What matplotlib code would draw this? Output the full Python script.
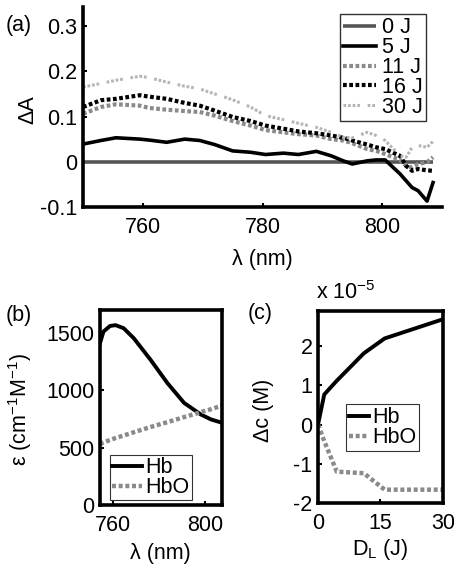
import matplotlib
matplotlib.use("Agg")
import matplotlib.pyplot as plt
import numpy as np

plt.rcParams['font.family'] = ['Liberation Sans', 'DejaVu Sans']
plt.rcParams['mathtext.fontset'] = 'custom'
plt.rcParams['mathtext.rm'] = 'Liberation Sans'
plt.rcParams['mathtext.it'] = 'Liberation Sans'
plt.rcParams['axes.unicode_minus'] = False

# ---------------- Panel (a): difference absorbance spectra ----------------
wavelength_a = [750, 753, 755.5, 759.5, 761, 764, 767, 769.5, 772, 775, 778, 780.5,
                783.5, 786, 789, 791.5, 793.5, 795, 797.5, 799, 800.5, 803, 804,
                805, 806, 807.5, 808.5]
dA_0J = [0.0] * len(wavelength_a)
dA_5J = [0.039, 0.047, 0.053, 0.050, 0.048, 0.043, 0.050, 0.047, 0.038, 0.024, 0.021,
         0.016, 0.019, 0.016, 0.023, 0.013, 0.002, -0.005, 0.002, 0.004, 0.004, -0.027,
         -0.042, -0.057, -0.064, -0.087, -0.046]
dA_11J = [0.106, 0.121, 0.127, 0.124, 0.119, 0.115, 0.112, 0.110, 0.102, 0.090, 0.080,
          0.070, 0.065, 0.061, 0.058, 0.050, 0.047, 0.041, 0.028, 0.024, 0.017, 0.004,
          -0.009, -0.013, -0.005, -0.001, 0.010]
dA_16J = [0.121, 0.136, 0.139, 0.147, 0.144, 0.139, 0.130, 0.124, 0.113, 0.099, 0.090,
          0.080, 0.073, 0.067, 0.063, 0.058, 0.053, 0.047, 0.038, 0.032, 0.028, 0.013,
          -0.009, -0.020, -0.016, -0.019, -0.020]
dA_30J = [0.165, 0.173, 0.180, 0.189, 0.186, 0.176, 0.167, 0.161, 0.150, 0.137, 0.121,
          0.102, 0.093, 0.085, 0.076, 0.065, 0.054, 0.053, 0.065, 0.058, 0.047, 0.013,
          0.010, 0.032, 0.036, 0.032, 0.045]
labels_a = ['0 J', '5 J', '11 J', '16 J', '30 J']

# ---------------- Panel (b): extinction coefficients ----------------
wavelength_b = [754.2, 755.7, 758.6, 761.0, 764.5, 768.9, 776.2, 783.5, 790.8, 798.1, 802.5, 807.3]
eps_Hb = [1411, 1512, 1561, 1568, 1541, 1454, 1266, 1064, 890, 789, 746, 717]
eps_HbO = [529, 545, 567, 584, 606, 634, 680, 722, 766, 810, 835, 867]

# ---------------- Panel (c): concentration changes (x 1e-5 M) ----------------
dose_J = [0, 1.5, 4.5, 11, 16, 30]
dc_Hb = [0, 0.77, 1.12, 1.82, 2.2, 2.69]
dc_HbO = [0, -0.42, -1.2, -1.24, -1.66, -1.66]

fig = plt.figure(figsize=(4.54, 5.72), dpi=100)
W, H = 454, 572

def ax_rect(l, t, r, b):
    return [l / W, 1 - b / H, (r - l) / W, (b - t) / H]

FS = 15.5
SPW = 2.6

# ---- (a)
axa = fig.add_axes(ax_rect(83, 7, 442, 207))
dot = (0, (0.9, 0.6))
axa.plot(wavelength_a, dA_0J, color='#555555', lw=2.6, label=labels_a[0], solid_capstyle='butt')
axa.plot(wavelength_a, dA_5J, color='black', lw=2.6, label=labels_a[1])
axa.plot(wavelength_a, dA_11J, color='#8a8a8a', lw=3.0, ls=dot, label=labels_a[2], dash_capstyle='butt')
axa.plot(wavelength_a, dA_16J, color='black', lw=3.0, ls=dot, label=labels_a[3], dash_capstyle='butt')
axa.plot(wavelength_a, dA_30J, color='#b5b5b5', lw=2.2, ls=(0, (0.9, 0.6, 0.9, 0.6, 0.9, 0.6, 0.9, 2.5)),
         label=labels_a[4], dash_capstyle='butt')
axa.set_xlim(750, 810)
axa.set_ylim(-0.1, 0.342)
axa.set_xticks([760, 780, 800])
axa.set_yticks([-0.1, 0, 0.1, 0.2, 0.3])
axa.set_yticklabels(['-0.1', '0', '0.1', '0.2', '0.3'])
for s in ['top', 'right']:
    axa.spines[s].set_visible(False)
for s in ['left', 'bottom']:
    axa.spines[s].set_linewidth(SPW)
axa.tick_params(direction='in', length=3, width=1.5, labelsize=FS, pad=4)
axa.tick_params(axis='x', pad=7)
leg = axa.legend(loc='upper left', bbox_to_anchor=(340 / W, 1 - 14 / H), bbox_transform=fig.transFigure,
                 fontsize=FS, frameon=True, fancybox=False, labelspacing=-0.05, handlelength=1.5,
                 handletextpad=0.3, borderpad=0.15, borderaxespad=0)
leg.get_frame().set_edgecolor('black')
leg.get_frame().set_linewidth(1.0)
fig.text(262 / W, 1 - 259 / H, 'λ (nm)', ha='center', va='center', fontsize=FS)
fig.text(28 / W, 1 - 110 / H, 'ΔA', ha='center', va='center', fontsize=FS, rotation=90)
fig.text(6 / W, 1 - 25 / H, '(a)', ha='left', va='center', fontsize=FS)

# ---- (b)
axb = fig.add_axes(ax_rect(100, 310, 222, 505))
axb.plot(wavelength_b, eps_Hb, color='black', lw=2.8, label='Hb')
axb.plot(wavelength_b, eps_HbO, color='#8a8a8a', lw=3.2, ls=dot, label='HbO', dash_capstyle='butt')
axb.set_xlim(754.2, 807.3)
axb.set_ylim(0, 1700)
axb.set_xticks([760, 800])
axb.set_yticks([0, 500, 1000, 1500])
for s in axb.spines.values():
    s.set_linewidth(SPW)
axb.tick_params(direction='in', length=3, width=1.5, labelsize=FS, pad=4)
axb.tick_params(axis='x', pad=7)
legb = axb.legend(loc='upper left', bbox_to_anchor=(110 / W, 1 - 455 / H), bbox_transform=fig.transFigure,
                  fontsize=FS, frameon=True, fancybox=False, labelspacing=-0.05, handlelength=1.4,
                  handletextpad=0.15, borderpad=0.1, borderaxespad=0)
legb.get_frame().set_edgecolor('black')
legb.get_frame().set_linewidth(0.8)
fig.text(160 / W, 1 - 554 / H, 'λ (nm)', ha='center', va='center', fontsize=FS)
fig.text(20 / W, 1 - 410 / H, 'ε (cm$^{-1}$M$^{-1}$)', ha='center', va='center', fontsize=FS, rotation=90)
fig.text(6 / W, 1 - 315 / H, '(b)', ha='left', va='center', fontsize=FS)

# ---- (c)
axc = fig.add_axes(ax_rect(318, 311, 443, 503))
axc.plot(dose_J, dc_Hb, color='black', lw=2.8, label='Hb')
axc.plot(dose_J, dc_HbO, color='#8a8a8a', lw=3.2, ls=dot, label='HbO', dash_capstyle='butt')
axc.set_xlim(0, 30)
axc.set_ylim(-2, 2.9)
axc.set_xticks([0, 15, 30])
axc.set_yticks([-2, -1, 0, 1, 2])
for s in axc.spines.values():
    s.set_linewidth(SPW)
axc.tick_params(direction='in', length=3, width=1.5, labelsize=FS, pad=4)
axc.tick_params(axis='x', pad=7)
legc = axc.legend(loc='upper left', bbox_to_anchor=(346 / W, 1 - 404 / H), bbox_transform=fig.transFigure,
                  fontsize=FS, frameon=True, fancybox=False, labelspacing=-0.05, handlelength=0.9,
                  handletextpad=0.15, borderpad=0.15, borderaxespad=0)
legc.get_frame().set_edgecolor('black')
legc.get_frame().set_linewidth(0.8)
fig.text(380 / W, 1 - 550 / H, 'D$_\\mathregular{L}$ (J)', ha='center', va='center', fontsize=FS)
fig.text(263 / W, 1 - 410 / H, 'Δc (M)', ha='center', va='center', fontsize=FS, rotation=90)
fig.text(248 / W, 1 - 313 / H, '(c)', ha='left', va='center', fontsize=FS)
fig.text(316 / W, 1 - 293 / H, 'x 10$^{-5}$', ha='left', va='center', fontsize=FS)

fig.savefig('out.png', dpi=100)
